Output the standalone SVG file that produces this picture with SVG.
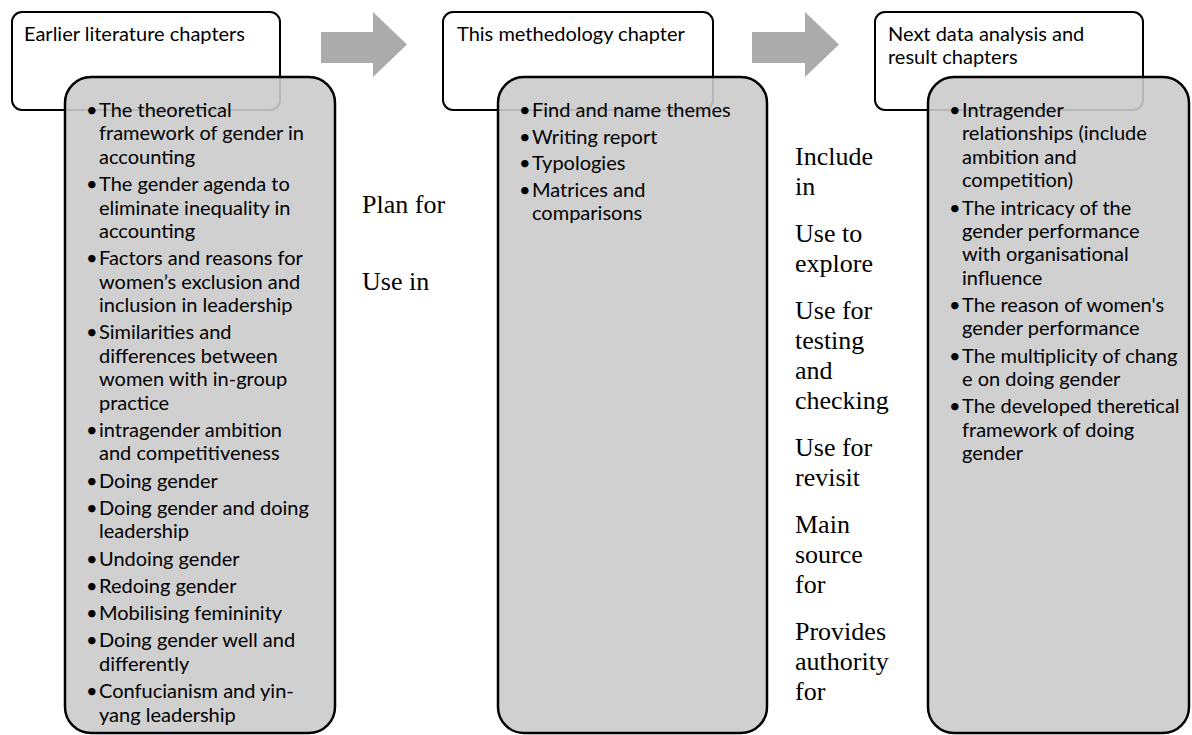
<svg xmlns="http://www.w3.org/2000/svg" width="1192" height="735" viewBox="0 0 1192 735">
  <style>
    .bg { fill: #ffffff; }
    .head { fill: #ffffff; stroke: #000000; stroke-width: 2; }
    .list { fill: #cbcbcb; fill-opacity: 0.9; stroke: #000000; stroke-width: 2.5; }
    .arrow { fill: #ababab; stroke: none; }
    .sans { font-family: Lato, "Liberation Sans", "DejaVu Sans", sans-serif; font-size: 20px; fill: #000000; }
    .serif { font-family: "Liberation Serif", "Times New Roman", serif; font-size: 26px; fill: #000000; }
  </style>
  <rect class="bg" x="0" y="0" width="1192" height="735"/>

  <!-- chapter headers (drawn first so the list panels overlap them) -->
  <g id="earlier-header">
    <rect class="head" x="12" y="12" width="268" height="98" rx="10" ry="10"/>
    <text class="sans" x="24" y="41">Earlier literature chapters</text>
  </g>
  <g id="method-header">
    <rect class="head" x="443" y="12" width="270" height="98" rx="10" ry="10"/>
    <text class="sans" x="457" y="41">This methedology chapter</text>
  </g>
  <g id="next-header">
    <rect class="head" x="875" y="12" width="268" height="98" rx="10" ry="10"/>
    <text class="sans" x="888" y="41">Next data analysis and</text>
    <text class="sans" x="888" y="64">result chapters</text>
  </g>

  <!-- list panels -->
  <g id="earlier-list">
    <rect class="list" x="65" y="77" width="270" height="656" rx="26" ry="26"/>
    <g class="sans">
      <text x="86">
        <tspan x="86" y="117">•</tspan><tspan x="86" y="191.1">•</tspan><tspan x="86" y="265.2">•</tspan><tspan x="86" y="339.3">•</tspan><tspan x="86" y="436.8">•</tspan><tspan x="86" y="487.5">•</tspan><tspan x="86" y="514.8">•</tspan><tspan x="86" y="565.5">•</tspan><tspan x="86" y="592.8">•</tspan><tspan x="86" y="620.1">•</tspan><tspan x="86" y="647.4">•</tspan><tspan x="86" y="698.1">•</tspan>
      </text>
      <text x="99">
        <tspan x="99" y="117">The theoretical</tspan>
        <tspan x="99" y="140.4">framework of gender in</tspan>
        <tspan x="99" y="163.8">accounting</tspan>
        <tspan x="99" y="191.1">The gender agenda to</tspan>
        <tspan x="99" y="214.5">eliminate inequality in</tspan>
        <tspan x="99" y="237.9">accounting</tspan>
        <tspan x="99" y="265.2">Factors and reasons for</tspan>
        <tspan x="99" y="288.6">women’s exclusion and</tspan>
        <tspan x="99" y="312">inclusion in leadership</tspan>
        <tspan x="99" y="339.3">Similarities and</tspan>
        <tspan x="99" y="362.7">differences between</tspan>
        <tspan x="99" y="386.1">women with in-group</tspan>
        <tspan x="99" y="409.5">practice</tspan>
        <tspan x="99" y="436.8">intragender ambition</tspan>
        <tspan x="99" y="460.2">and competitiveness</tspan>
        <tspan x="99" y="487.5">Doing gender</tspan>
        <tspan x="99" y="514.8">Doing gender and doing</tspan>
        <tspan x="99" y="538.2">leadership</tspan>
        <tspan x="99" y="565.5">Undoing gender</tspan>
        <tspan x="99" y="592.8">Redoing gender</tspan>
        <tspan x="99" y="620.1">Mobilising femininity</tspan>
        <tspan x="99" y="647.4">Doing gender well and</tspan>
        <tspan x="99" y="670.8">differently</tspan>
        <tspan x="99" y="698.1">Confucianism and yin-</tspan>
        <tspan x="99" y="721.5">yang leadership</tspan>
      </text>
    </g>
  </g>

  <g id="method-list">
    <rect class="list" x="498" y="77" width="269" height="656" rx="26" ry="26"/>
    <g class="sans">
      <text x="519">
        <tspan x="519" y="117">•</tspan><tspan x="519" y="143.5">•</tspan><tspan x="519" y="170">•</tspan><tspan x="519" y="196.5">•</tspan>
      </text>
      <text x="532">
        <tspan x="532" y="117">Find and name themes</tspan>
        <tspan x="532" y="143.5">Writing report</tspan>
        <tspan x="532" y="170">Typologies</tspan>
        <tspan x="532" y="196.5">Matrices and</tspan>
        <tspan x="532" y="219.9">comparisons</tspan>
      </text>
    </g>
  </g>

  <g id="next-list">
    <rect class="list" x="928" y="77" width="261" height="656" rx="26" ry="26"/>
    <g class="sans">
      <text x="949">
        <tspan x="949" y="117">•</tspan><tspan x="949" y="214.5">•</tspan><tspan x="949" y="311.9">•</tspan><tspan x="949" y="362.5">•</tspan><tspan x="949" y="413.1">•</tspan>
      </text>
      <text x="962">
        <tspan x="962" y="117">Intragender</tspan>
        <tspan x="962" y="140.4">relationships (include</tspan>
        <tspan x="962" y="163.8">ambition and</tspan>
        <tspan x="962" y="187.2">competition)</tspan>
        <tspan x="962" y="214.5">The intricacy of the</tspan>
        <tspan x="962" y="237.9">gender performance</tspan>
        <tspan x="962" y="261.3">with organisational</tspan>
        <tspan x="962" y="284.7">influence</tspan>
        <tspan x="962" y="311.9">The reason of women's</tspan>
        <tspan x="962" y="335.3">gender performance</tspan>
        <tspan x="962" y="362.5">The multiplicity of chang</tspan>
        <tspan x="962" y="385.9">e on doing gender</tspan>
        <tspan x="962" y="413.1">The developed theretical</tspan>
        <tspan x="962" y="436.5">framework of doing</tspan>
        <tspan x="962" y="459.9">gender</tspan>
      </text>
    </g>
  </g>

  <!-- block arrows between the stages -->
  <g id="connectors">
    <polygon class="arrow" points="321,32 373,32 373,12 407,44.5 373,77 373,63 321,63"/>
    <polygon class="arrow" points="752,32 805,32 805,12 839,44.5 805,77 805,63 752,63"/>
  </g>

  <!-- relation labels -->
  <g id="labels" class="serif">
    <text x="362" y="213">Plan for</text>
    <text x="362" y="290">Use in</text>
    <text x="795">
      <tspan x="795" y="165">Include</tspan>
      <tspan x="795" y="195">in</tspan>
      <tspan x="795" y="242">Use to</tspan>
      <tspan x="795" y="272">explore</tspan>
      <tspan x="795" y="319">Use for</tspan>
      <tspan x="795" y="349">testing</tspan>
      <tspan x="795" y="379">and</tspan>
      <tspan x="795" y="409">checking</tspan>
      <tspan x="795" y="456">Use for</tspan>
      <tspan x="795" y="486">revisit</tspan>
      <tspan x="795" y="533">Main</tspan>
      <tspan x="795" y="563">source</tspan>
      <tspan x="795" y="593">for</tspan>
      <tspan x="795" y="640">Provides</tspan>
      <tspan x="795" y="670">authority</tspan>
      <tspan x="795" y="700">for</tspan>
    </text>
  </g>
</svg>
